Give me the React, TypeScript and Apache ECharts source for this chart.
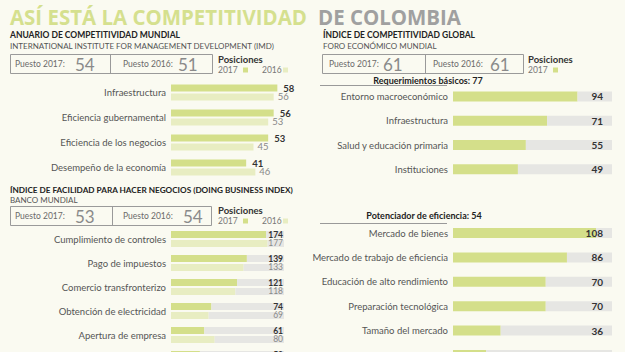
import React, { useEffect, useRef } from "react";
import * as echarts from "echarts";

// ---------- DATA ----------
const TL_CATS = ["Infraestructura", "Eficiencia gubernamental", "Eficiencia de los negocios", "Desempeño de la economía"];
const TL_2017 = [58, 56, 53, 41];
const TL_2016 = [56, 53, 45, 46];

const BL_CATS = ["Cumplimiento de controles", "Pago de impuestos", "Comercio transfronterizo", "Obtención de electricidad", "Apertura de empresa", "Registro de propiedades"];
const BL_2017 = [174, 139, 121, 74, 61, 53];
const BL_2016 = [177, 133, 118, 69, 80, 54];
const BL_MAX = 207;

const TR_CATS = ["Entorno macroeconómico", "Infraestructura", "Salud y educación primaria", "Instituciones"];
const TR_VALUES = [94, 71, 55, 49];

const BR_CATS = ["Mercado de bienes", "Mercado de trabajo de eficiencia", "Educación de alto rendimiento", "Preparación tecnológica", "Tamaño del mercado", "Mercado financiero de desarrollo"];
const BR_VALUES = [108, 86, 70, 70, 36, 25];
const R_MAX = 120;

const RANKS = { imd2017: "54", imd2016: "51", wef2017: "61", wef2016: "61", db2017: "53", db2016: "54" };

// ---------- STYLE ----------
const GREEN = "#d4df8a";
const LIGHT = "#e8edc2";
const TRACK = "#e6e6e3";
const BG = "#fafaf1";
const FONT = "Lato";

function catAxis(idx: number, data: string[]) {
  return {
    type: "category",
    gridIndex: idx,
    data,
    inverse: true,
    axisLine: { show: false },
    axisTick: { show: false },
    axisLabel: { color: "#555", fontSize: 9.5, fontFamily: FONT, margin: 5 },
  };
}
function valAxis(idx: number, max: number) {
  return { type: "value", gridIndex: idx, min: 0, max, show: false };
}

function txt(x: number, y: number, text: string, o: any = {}) {
  return {
    type: "text",
    x,
    y,
    scaleX: o.scaleX ?? 1,
    style: {
      text,
      fill: o.fill ?? "#555",
      fontSize: o.fontSize ?? 9,
      fontWeight: o.fontWeight ?? "normal",
      fontFamily: o.fontFamily ?? FONT,
      textAlign: o.align ?? "left",
      textVerticalAlign: "middle",
    },
  };
}
function rect(x: number, y: number, w: number, h: number, style: any) {
  return { type: "rect", shape: { x, y, width: w, height: h }, style };
}
function line(x1: number, y1: number, x2: number, y2: number) {
  return { type: "line", shape: { x1, y1, x2, y2 }, style: { stroke: "#999", lineWidth: 1 } };
}

// p: [label17 x, number17 x, label16 x, number16 x] absolute
function rankBox(x: number, y: number, w: number, div: number, p: number[], r17: string, r16: string) {
  const cy = y + 10;
  return [
    rect(x + 0.5, y + 0.5, w, 19, { fill: "none", stroke: "#9a9a9a", lineWidth: 1 }),
    line(div + 0.5, y + 0.5, div + 0.5, y + 19.5),
    txt(p[0], cy, "Puesto 2017:", { fontSize: 8.5, fill: "#6a6a6a" }),
    txt(p[1], cy, r17, { fontSize: 17, fill: "#8a8a8a" }),
    txt(p[2], cy, "Puesto 2016:", { fontSize: 8.5, fill: "#6a6a6a" }),
    txt(p[3], cy, r16, { fontSize: 17, fill: "#8a8a8a" }),
  ];
}
function legend(x: number, y: number, both: boolean) {
  const els: any[] = [
    txt(x, y, "Posiciones", { fontSize: 9.5, fontWeight: "bold", fill: "#333" }),
    txt(x, y + 11, "2017", { fontSize: 8.5, fill: "#777" }),
    rect(x + 25, y + 8.5, 5, 5, { fill: GREEN }),
  ];
  if (both) {
    els.push(txt(x + 44, y + 11, "2016", { fontSize: 8.5, fill: "#777" }));
    els.push(rect(x + 65, y + 8.5, 5, 5, { fill: LIGHT }));
  }
  return els;
}

export default function App() {
  const ref = useRef<HTMLDivElement>(null);
  useEffect(() => {
    if (!ref.current) return;
    const chart = echarts.init(ref.current, null, { renderer: "svg" });
    const boldLbl = { color: "#333", fontSize: 9.5, fontWeight: "bold", fontFamily: FONT };
    const lightLbl = { color: "#888", fontSize: 9.5, fontFamily: FONT };

    const graphic: any[] = [
      txt(10, 16, "ASÍ ESTÁ LA COMPETITIVIDAD", { fontSize: 22, fontWeight: "bold", fontFamily: "Open Sans", fill: "#d5e08e", scaleX: 0.93 }),
      txt(318, 16, "DE COLOMBIA", { fontSize: 22, fontWeight: "bold", fontFamily: "Open Sans", fill: "#a0a0a0", scaleX: 0.93 }),
      // left top
      txt(10, 35, "ANUARIO DE COMPETITIVIDAD MUNDIAL", { fontSize: 8.5, fontWeight: "bold", fill: "#222" }),
      txt(10, 46, "INTERNATIONAL INSTITUTE FOR MANAGEMENT DEVELOPMENT (IMD)", { fontSize: 8, fill: "#555" }),
      ...rankBox(10, 54, 202, 110, [15, 75, 123, 178], RANKS.imd2017, RANKS.imd2016),
      ...legend(218, 59, true),
      // right top
      txt(323, 35, "ÍNDICE DE COMPETITIVIDAD GLOBAL", { fontSize: 8.5, fontWeight: "bold", fill: "#222" }),
      txt(323, 46, "FORO ECONÓMICO MUNDIAL", { fontSize: 8, fill: "#555" }),
      ...rankBox(322, 54, 201, 425, [329, 383, 433, 490], RANKS.wef2017, RANKS.wef2016),
      ...legend(528, 59, false),
      txt(428, 80, "Requerimientos básicos: 77", { fontSize: 9, fontWeight: "bold", fill: "#222", align: "center" }),
      line(320, 85.5, 447, 85.5),
      txt(424, 215, "Potenciador de eficiencia: 54", { fontSize: 9, fontWeight: "bold", fill: "#222", align: "center" }),
      line(320, 223.5, 447, 223.5),
      // left bottom
      txt(10, 190, "ÍNDICE DE FACILIDAD PARA HACER NEGOCIOS (DOING BUSINESS INDEX)", { fontSize: 8.2, fontWeight: "bold", fill: "#222" }),
      txt(10, 200, "BANCO MUNDIAL", { fontSize: 8, fill: "#555" }),
      ...rankBox(10, 206, 201, 112, [15, 75, 123, 183], RANKS.db2017, RANKS.db2016),
      ...legend(218, 210, true),
    ];

    const remLabel = (vals: number[], style: any, dist: number) => ({
      show: true,
      position: "insideRight",
      distance: dist,
      formatter: (p: any) => String(vals[p.dataIndex]),
      ...style,
    });

    const g = (left: number, top: number, width: number, height: number) => ({
      left, top, width, height, outerBoundsMode: "none", containLabel: false,
    });

    chart.setOption({
      animation: false,
      backgroundColor: BG,
      grid: [g(171, 80, 110, 100), g(171, 227, 113, 144), g(453, 84.3, 159, 97.2), g(453, 220.8, 159, 146.4)],
      xAxis: [valAxis(0, 60), valAxis(1, BL_MAX), valAxis(2, R_MAX), valAxis(3, R_MAX)],
      yAxis: [catAxis(0, TL_CATS), catAxis(1, BL_CATS), catAxis(2, TR_CATS), catAxis(3, BR_CATS)],
      graphic: { elements: graphic },
      series: [
        // top-left
        { type: "bar", xAxisIndex: 0, yAxisIndex: 0, data: TL_2017, barWidth: 7, barGap: "28%", itemStyle: { color: GREEN },
          label: { show: true, position: "right", distance: 6, ...boldLbl } },
        { type: "bar", xAxisIndex: 0, yAxisIndex: 0, data: TL_2016, barWidth: 7, barGap: "28%", itemStyle: { color: LIGHT },
          label: { show: true, position: "right", distance: 4, ...lightLbl } },
        // bottom-left
        { type: "bar", xAxisIndex: 1, yAxisIndex: 1, stack: "a", data: BL_2017, barWidth: 7, barGap: "28%", itemStyle: { color: GREEN } },
        { type: "bar", xAxisIndex: 1, yAxisIndex: 1, stack: "a", data: BL_2017.map((v) => BL_MAX - v), barWidth: 7, barGap: "28%",
          itemStyle: { color: TRACK }, label: remLabel(BL_2017, { color: "#333", fontSize: 8.5, fontWeight: "bold", fontFamily: FONT }, 1) },
        { type: "bar", xAxisIndex: 1, yAxisIndex: 1, stack: "b", data: BL_2016, barWidth: 7, barGap: "28%", itemStyle: { color: LIGHT } },
        { type: "bar", xAxisIndex: 1, yAxisIndex: 1, stack: "b", data: BL_2016.map((v) => BL_MAX - v), barWidth: 7, barGap: "28%",
          itemStyle: { color: TRACK }, label: remLabel(BL_2016, { color: "#888", fontSize: 8.5, fontFamily: FONT }, 1) },
        // top-right
        { type: "bar", xAxisIndex: 2, yAxisIndex: 2, stack: "r", data: TR_VALUES, barWidth: 10, itemStyle: { color: GREEN } },
        { type: "bar", xAxisIndex: 2, yAxisIndex: 2, stack: "r", data: TR_VALUES.map((v) => R_MAX - v), barWidth: 10,
          itemStyle: { color: TRACK }, label: remLabel(TR_VALUES, { color: "#333", fontSize: 10, fontWeight: "bold", fontFamily: FONT }, 9) },
        // bottom-right
        { type: "bar", xAxisIndex: 3, yAxisIndex: 3, stack: "s", data: BR_VALUES, barWidth: 10, itemStyle: { color: GREEN } },
        { type: "bar", xAxisIndex: 3, yAxisIndex: 3, stack: "s", data: BR_VALUES.map((v) => R_MAX - v), barWidth: 10,
          itemStyle: { color: TRACK }, label: remLabel(BR_VALUES, { color: "#333", fontSize: 10, fontWeight: "bold", fontFamily: FONT }, 9) },
      ],
    });
    return () => chart.dispose();
  }, []);
  return <div ref={ref} style={{ position: "fixed", left: 0, top: 0, width: 625, height: 352 }} />;
}
